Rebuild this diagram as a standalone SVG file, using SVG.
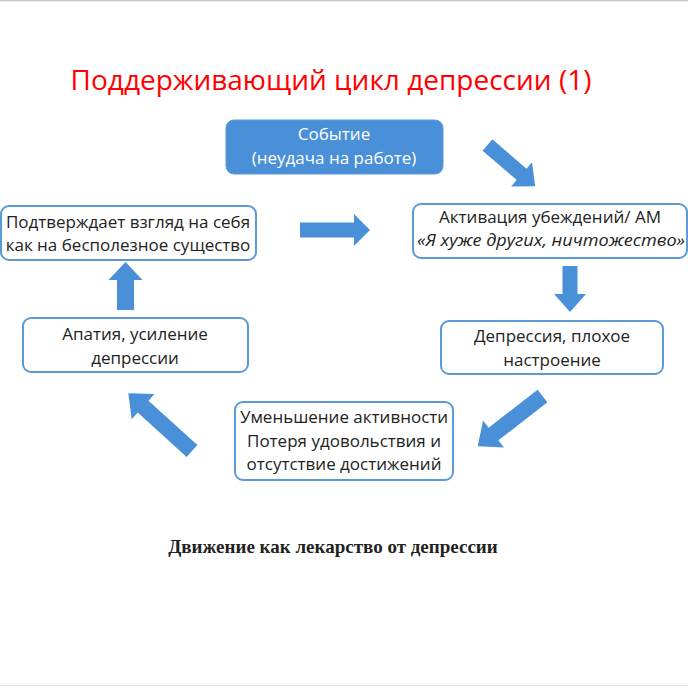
<svg xmlns="http://www.w3.org/2000/svg" width="688" height="688" viewBox="0 0 688 688">
<style>
.box{fill:#ffffff;stroke:#5b9bd5;stroke-width:2}
.fbox{fill:#4a90d9;stroke:#5b9bd5;stroke-width:1}
.t{font-family:"Open Sans","Noto Sans",sans-serif;font-size:17px;fill:#222;text-anchor:middle}
.w{fill:#ffffff}
.arr{fill:#4a90d9}
</style>
<rect x="0" y="0" width="688" height="688" fill="#ffffff"/>
<line x1="0" y1="0.5" x2="688" y2="0.5" stroke="#c8c8c8" stroke-width="1.5"/>
<line x1="0" y1="685.5" x2="688" y2="685.5" stroke="#e4e4e4" stroke-width="1"/>
<text x="331" y="90" font-family="Open Sans, Noto Sans, sans-serif" font-size="28" fill="#ff0000" text-anchor="middle">Поддерживающий цикл депрессии (1)</text>

<g id="event">
<rect class="fbox" x="226" y="120" width="217" height="54" rx="8"/>
<text class="t w" x="334" y="140">Событие</text>
<text class="t w" x="334" y="164">(неудача на работе)</text>
</g>
<g id="confirm">
<rect class="box" x="1" y="206" width="255" height="54" rx="8"/>
<text class="t" x="128" y="228">Подтверждает взгляд на себя</text>
<text class="t" x="128" y="251">как на бесполезное существо</text>
</g>
<g id="activation">
<rect class="box" x="413" y="204" width="274" height="54" rx="8"/>
<text class="t" x="550" y="223">Активация убеждений/ АМ</text>
<text class="t" x="551" y="246" font-style="italic" textLength="268" lengthAdjust="spacingAndGlyphs">«Я хуже других, ничтожество»</text>
</g>
<g id="depression">
<rect class="box" x="441" y="321" width="222" height="53" rx="8"/>
<text class="t" x="552" y="342">Депрессия, плохое</text>
<text class="t" x="552" y="366">настроение</text>
</g>
<g id="activity">
<rect class="box" x="235" y="402" width="218" height="78" rx="8"/>
<text class="t" x="344" y="423">Уменьшение активности</text>
<text class="t" x="344" y="447">Потеря удовольствия и</text>
<text class="t" x="344" y="470">отсутствие достижений</text>
</g>
<g id="apathy">
<rect class="box" x="23" y="318" width="225" height="54" rx="8"/>
<text class="t" x="135" y="340">Апатия, усиление</text>
<text class="t" x="135" y="364">депрессии</text>
</g>

<g id="connectors">
<polygon class="arr" transform="translate(300,230)" points="0,-7.5 54,-7.5 54,-16 70,0 54,16 54,7.5 0,7.5"/>
<polygon class="arr" transform="translate(125.5,310) rotate(-90)" points="0,-8.5 30,-8.5 30,-17 48,0 30,17 30,8.5 0,8.5"/>
<polygon class="arr" transform="translate(487.5,145) rotate(40.8)" points="0,-7.5 45,-7.5 45,-16 63,0 45,16 45,7.5 0,7.5"/>
<polygon class="arr" transform="translate(570,266) rotate(90)" points="0,-7.5 28,-7.5 28,-16 46,0 28,16 28,7.5 0,7.5"/>
<polygon class="arr" transform="translate(542.5,396) rotate(142.2)" points="0,-8 62,-8 62,-17 82,0 62,17 62,8 0,8"/>
<polygon class="arr" transform="translate(192,451) rotate(-137.8)" points="0,-8 66,-8 66,-17 86,0 66,17 66,8 0,8"/>
</g>

<text x="333" y="553" font-family="Liberation Serif, serif" font-size="19" font-weight="bold" fill="#222" text-anchor="middle">Движение как лекарство от депрессии</text>
</svg>
